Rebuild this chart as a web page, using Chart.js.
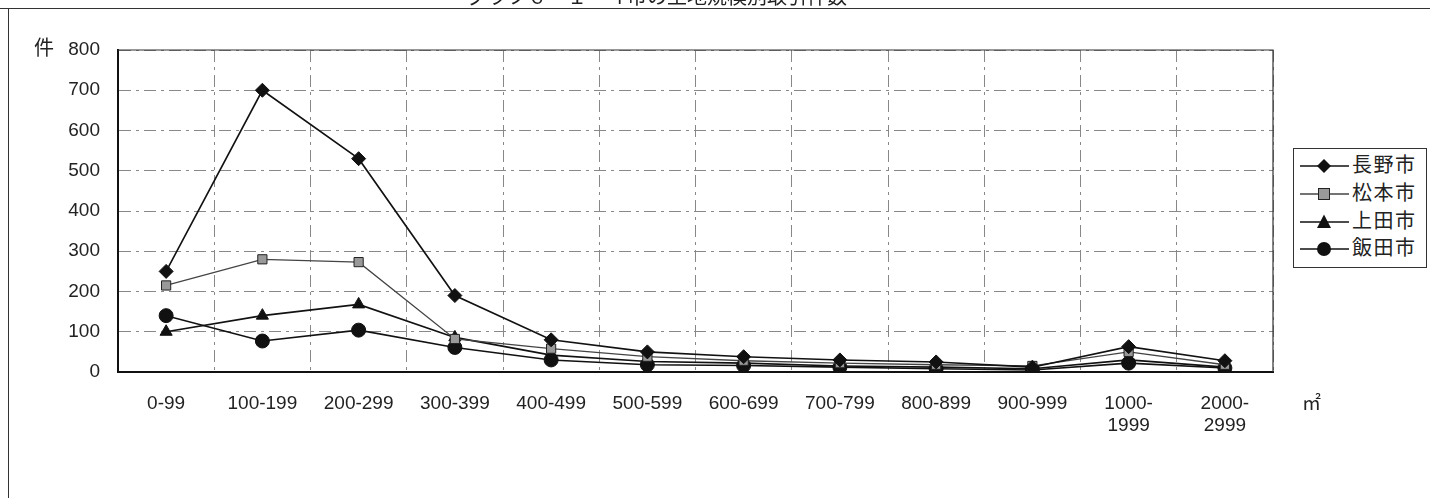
<!DOCTYPE html>
<html>
<head>
<meta charset="utf-8">
<script src="https://cdn.jsdelivr.net/npm/chart.js@4"></script>
<style>
  html, body { margin: 0; padding: 0; background: #fff; }
  #wrap { position: relative; width: 1430px; height: 498px; overflow: hidden; }
  #chart { position: absolute; left: 0; top: 0; }
  .frameTop { position: absolute; left: 0; top: 8px; width: 1430px; height: 0; border-top: 1.5px solid #333; }
  .frameLeft { position: absolute; left: 8px; top: 8px; width: 0; height: 490px; border-left: 1.5px solid #333; }
  .titleClip { position: absolute; left: 0; top: 0; width: 1430px; height: 7px; overflow: hidden; }
  .titleClip span { position: absolute; left: 467px; top: -14px; font: 20px "Noto Sans CJK JP"; line-height: 20px; color: #222; white-space: nowrap; }
  .unitY { position: absolute; left: 34px; top: 32px; font: 20px "Noto Sans CJK JP"; color: #222; }
  .unitX { position: absolute; left: 1302px; top: 388px; font: 19px "Noto Sans CJK JP"; color: #222; }
  #legend { position: absolute; left: 1293px; top: 148px; width: 134px; height: 120px; border: 1.5px solid #333; box-sizing: border-box; background: #fff; }
  #legend .row { position: absolute; left: 0; height: 26px; width: 133px; }
  #legend svg { position: absolute; left: 6px; top: 0; }
  #legend .lbl { position: absolute; left: 58px; top: -2px; font: 20px "Noto Sans CJK JP"; line-height: 26px; color: #222; letter-spacing: 1.5px; }
</style>
</head>
<body>
<div id="wrap">
  <canvas id="chart" width="1430" height="498"></canvas>
  <div class="titleClip"><span>グラフ６－１　４市の土地規模別取引件数</span></div>
  <div class="frameTop"></div>
  <div class="frameLeft"></div>
  <div class="unitY">件</div>
  <div class="unitX">㎡</div>
  <div id="legend"></div>
</div>
<script>
// categories (m2 ranges)
const categories = ['0-99', '100-199', '200-299', '300-399', '400-499', '500-599',
  '600-699', '700-799', '800-899', '900-999', ['1000-', '1999'], ['2000-', '2999']];

// series values (件)
const nagano    = [250, 700, 530, 190, 80, 50, 38, 30, 25, 12, 63, 28];
const matsumoto = [215, 280, 273, 82, 58, 38, 28, 22, 18, 15, 50, 18];
const ueda      = [100, 140, 168, 86, 42, 26, 22, 15, 12, 8, 30, 12];
const iida      = [140, 77, 104, 61, 30, 18, 16, 12, 8, 5, 22, 10];

const seriesNames = ['長野市', '松本市', '上田市', '飯田市'];

// y ticks
const yMin = 0, yMax = 800, yStep = 100;

const styles = [
  { line: '#111', width: 1.6, point: 'rectRot', fill: '#111', border: '#111', r: 7 },
  { line: '#444', width: 1.3, point: 'rect', fill: '#999', border: '#222', r: 6.5 },
  { line: '#111', width: 1.6, point: 'triangle', fill: '#111', border: '#111', r: 7 },
  { line: '#111', width: 1.6, point: 'circle', fill: '#111', border: '#111', r: 7 }
];

const allSeries = [nagano, matsumoto, ueda, iida];

const datasets = allSeries.map((vals, i) => ({
  label: seriesNames[i],
  data: vals,
  borderColor: styles[i].line,
  borderWidth: styles[i].width,
  pointStyle: styles[i].point,
  pointRadius: styles[i].r,
  pointBackgroundColor: styles[i].fill,
  pointBorderColor: styles[i].border,
  pointBorderWidth: 1,
  tension: 0,
  fill: false
}));

// outer box of the plot (top and right sides)
const plotFrame = {
  id: 'plotFrame',
  afterDraw(chart) {
    const a = chart.chartArea, ctx = chart.ctx;
    ctx.save();
    ctx.strokeStyle = '#333';
    ctx.lineWidth = 1.2;
    ctx.beginPath();
    ctx.moveTo(a.left, a.top);
    ctx.lineTo(a.right, a.top);
    ctx.lineTo(a.right, a.bottom);
    ctx.stroke();
    ctx.restore();
  }
};

const gridDash = [12, 5, 3, 5];

new Chart(document.getElementById('chart').getContext('2d'), {
  type: 'line',
  data: { labels: categories, datasets: datasets },
  options: {
    responsive: false,
    animation: false,
    layout: { padding: { left: 0, right: 157, top: 50, bottom: 0 } },
    plugins: { legend: { display: false }, tooltip: { enabled: false } },
    scales: {
      x: {
        offset: true,
        grid: { offset: true, color: '#888', lineWidth: 1, drawTicks: false },
        border: { display: true, color: '#111', width: 2, dash: gridDash },
        ticks: { color: '#222', padding: 20, maxRotation: 0, autoSkip: false,
          font: { family: 'Liberation Sans', size: 19 } },
        afterFit(scale) { scale.height = 126; }
      },
      y: {
        min: yMin, max: yMax,
        grid: { color: '#888', lineWidth: 1, drawTicks: false },
        border: { display: true, color: '#111', width: 2, dash: gridDash },
        ticks: { stepSize: yStep, color: '#222', padding: 18,
          font: { family: 'Liberation Sans', size: 19 } },
        afterFit(scale) { scale.width = 118; }
      }
    }
  },
  plugins: [plotFrame]
});

// legend
const legend = document.getElementById('legend');
const rowTops = [4, 32, 60, 87];
seriesNames.forEach((name, i) => {
  const s = styles[i];
  const row = document.createElement('div');
  row.className = 'row';
  row.style.top = rowTops[i] + 'px';
  let marker = '';
  if (s.point === 'rectRot') marker = '<polygon points="24,6 31,13 24,20 17,13" fill="#111"/>';
  if (s.point === 'rect') marker = '<rect x="18.5" y="7.5" width="11" height="11" fill="#999" stroke="#222" stroke-width="1"/>';
  if (s.point === 'triangle') marker = '<polygon points="24,5.5 31,19 17,19" fill="#111"/>';
  if (s.point === 'circle') marker = '<circle cx="24" cy="13" r="7" fill="#111"/>';
  row.innerHTML = `
    <svg width="50" height="26"><line x1="0" y1="13" x2="49" y2="13" stroke="${s.line}" stroke-width="${s.width}"/>${marker}</svg>
    <span class="lbl">${name}</span>`;
  legend.appendChild(row);
});
</script>
</body>
</html>
